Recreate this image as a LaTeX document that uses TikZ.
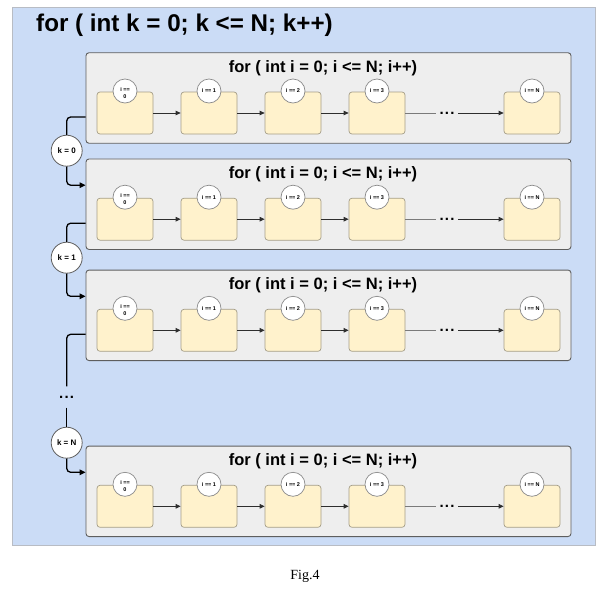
\documentclass[tikz,border=0pt]{standalone}
\usepackage{fontspec}
\setmainfont{Liberation Sans}
\newfontfamily\capfont{Liberation Serif}
\usetikzlibrary{arrows.meta}
\definecolor{bgblue}{HTML}{CBDCF6}
\definecolor{bgedge}{HTML}{B8BCC4}
\definecolor{boxfill}{HTML}{EEEEEE}
\definecolor{boxedge}{HTML}{5E5E5E}
\definecolor{yfill}{HTML}{FFF2CC}
\definecolor{yedge}{HTML}{A59E88}
\definecolor{cedge}{HTML}{8A8A8A}
\definecolor{arrowcol}{HTML}{2E2E2E}
\definecolor{linecol}{HTML}{7A7A7A}
\tikzset{
  outerbox/.style={draw=boxedge, fill=boxfill, line width=0.9pt, rounded corners=3pt,
    minimum width=485pt, minimum height=90.5pt, inner sep=0pt},
  looptitle/.style={font=\bfseries\fontsize{16.5}{19}\selectfont, inner sep=0pt},
  maintitle/.style={font=\bfseries\fontsize{24.2}{28}\selectfont, inner sep=0pt},
  ybox/.style={draw=yedge, fill=yfill, line width=0.7pt, rounded corners=3pt,
    minimum width=56pt, minimum height=42pt, inner sep=0pt},
  icirc/.style={circle, draw=cedge, fill=white, line width=0.7pt, minimum size=24pt,
    inner sep=0pt, font=\bfseries\fontsize{5.5}{6}\selectfont},
  itext/.style={font=\bfseries\fontsize{5.5}{6.5}\selectfont, inner sep=0pt, align=center},
  kcirc/.style={circle, draw=boxedge, fill=white, line width=0.8pt, minimum size=31pt,
    inner sep=0pt, font=\bfseries\fontsize{8}{9}\selectfont},
  hdots/.style={font=\bfseries\fontsize{15}{15}\selectfont, inner sep=3.5pt},
  kdotnode/.style={font=\bfseries\fontsize{15}{15}\selectfont, inner sep=0pt, minimum height=21pt},
  iarrow/.style={draw=arrowcol, line width=0.8pt, -{Triangle[length=5pt,width=4.5pt]}},
  iline/.style={draw=linecol, line width=0.8pt},
  kline/.style={draw=black, line width=1.3pt, rounded corners=4pt},
  karrow/.style={kline, -{Triangle[length=6pt,width=5.5pt]}}
}
\newcommand{\mydots}{.\kern1.2pt.\kern1.2pt.}
\begin{document}
\begin{tikzpicture}[x=1pt,y=-1pt]
\useasboundingbox (0,0) rectangle (606,598);
\fill[white] (0,0) rectangle (606,598);
\draw[bgedge, fill=bgblue, line width=0.8pt] (12,7) rectangle (595,545);
\node[maintitle, anchor=base west] (title) at (36,31.7) {for ( int k = 0; k <= N; k++)};

\foreach \n/\cy in {1/98, 2/204.2, 3/315.3, 4/491.3}{
  \node[outerbox] (b\n) at (328.5,\cy) {};
  \node[looptitle, anchor=base] (t\n) at (323,{\cy-45.3+19.5}) {for ( int i = 0; i <= N; i++)};
  \foreach \j/\x in {0/125,1/209,2/293,3/377,N/532}{
    \node[ybox] (y\n-\j) at (\x,{\cy+15}) {};
  }
  \node[icirc] (c\n-0) at (125,{\cy-7}) {};
  \node[itext, anchor=north] (l\n-0) at ([yshift=3.5pt]c\n-0.center) {i ==\\0};
  \node[icirc] (c\n-1) at (209,{\cy-7}) {i == 1};
  \node[icirc] (c\n-2) at (293,{\cy-7}) {i == 2};
  \node[icirc] (c\n-3) at (377,{\cy-7}) {i == 3};
  \node[icirc] (c\n-N) at (532,{\cy-7}) {i == N};
  \node[hdots] (d\n) at (447,{\cy+15}) {\mydots};
  \draw[iarrow] (y\n-0) -- (y\n-1);
  \draw[iarrow] (y\n-1) -- (y\n-2);
  \draw[iarrow] (y\n-2) -- (y\n-3);
  \draw[iline] (y\n-3.east) -- (y\n-3.east -| d\n.west);
  \draw[iarrow] (y\n-N.west -| d\n.east) -- (y\n-N.west);
}

\node[kcirc] (k0) at (66.7,150.7) {k = 0};
\node[kcirc] (k1) at (66.7,257.7) {k = 1};
\node[kdotnode] (kd) at (66.7,397) {\mydots};
\node[kcirc] (kN) at (66.7,442.7) {k = N};

\draw[kline] ([yshift=-19pt]b1.west) -| (k0.north);
\draw[karrow] (k0.south) |- ([yshift=19pt]b2.west);
\draw[kline] ([yshift=-19pt]b2.west) -| (k1.north);
\draw[karrow] (k1.south) |- ([yshift=19pt]b3.west);
\draw[kline] ([yshift=-19pt]b3.west) -| (kd.north);
\draw[kline] (kd.south) -- (kN.north);
\draw[karrow] (kN.south) |- ([yshift=19pt]b4.west);

\node[font=\capfont\fontsize{14}{16}\selectfont, inner sep=0pt] (cap) at (305,576) {Fig.4};
\end{tikzpicture}
\end{document}
